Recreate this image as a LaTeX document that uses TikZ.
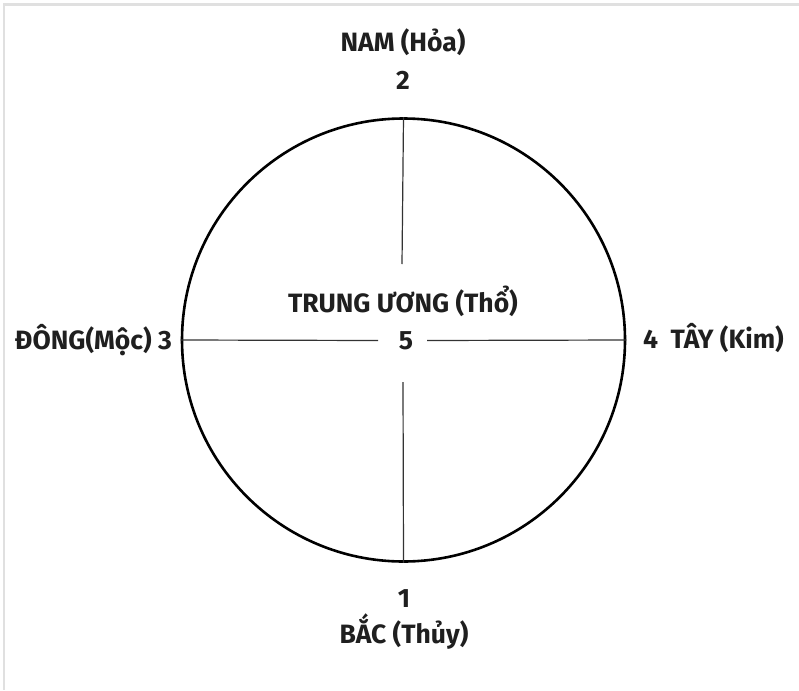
\documentclass[tikz,border=0pt]{standalone}
\usepackage{fontspec}
\setmainfont{Fira Sans}
\begin{document}
\begin{tikzpicture}[x=1pt,y=-1pt,
  lbl/.style={font=\bfseries\fontsize{26.5}{30}\selectfont, inner sep=0pt, anchor=base, text=black!88},
  cross/.style={line width=1.2pt, black!80},
  frame/.style={line width=2.2pt, black!12}]
\useasboundingbox (0,0) rectangle (799,690);
\fill[white] (0,0) rectangle (799,690);
\draw[frame] (4,690) -- (4,4.5) -- (799,4.5);
\node[circle, draw, line width=2.6pt, minimum size=443pt, inner sep=0pt] (c) at (403.5,340) {};
\coordinate (t1) at (402,264);
\coordinate (b1) at (403,382);
\coordinate (l1) at (378,340.5);
\coordinate (r1) at (427,340.5);
\draw[cross] (c.north) -- (t1);
\draw[cross] (b1) -- (c.south);
\draw[cross] (c.west) -- (l1);
\draw[cross] (r1) -- (c.east);
\node[lbl] (nam) at (403,52) {NAM (Hỏa)};
\node[lbl] (n2) at (403,89) {2};
\node[lbl] (tw) at (403,312) {TRUNG ƯƠNG (Thổ)};
\node[lbl] (n5) at (406,349) {5};
\node[lbl, anchor=base east] (dong) at (172,349) {ĐÔNG(Mộc) 3};
\node[lbl, anchor=base west] (tay) at (643,348) {4\ \ TÂY (Kim)};
\node[lbl] (n1) at (404,607) {1};
\node[lbl] (bac) at (404,643) {BẮC (Thủy)};
\end{tikzpicture}
\end{document}
